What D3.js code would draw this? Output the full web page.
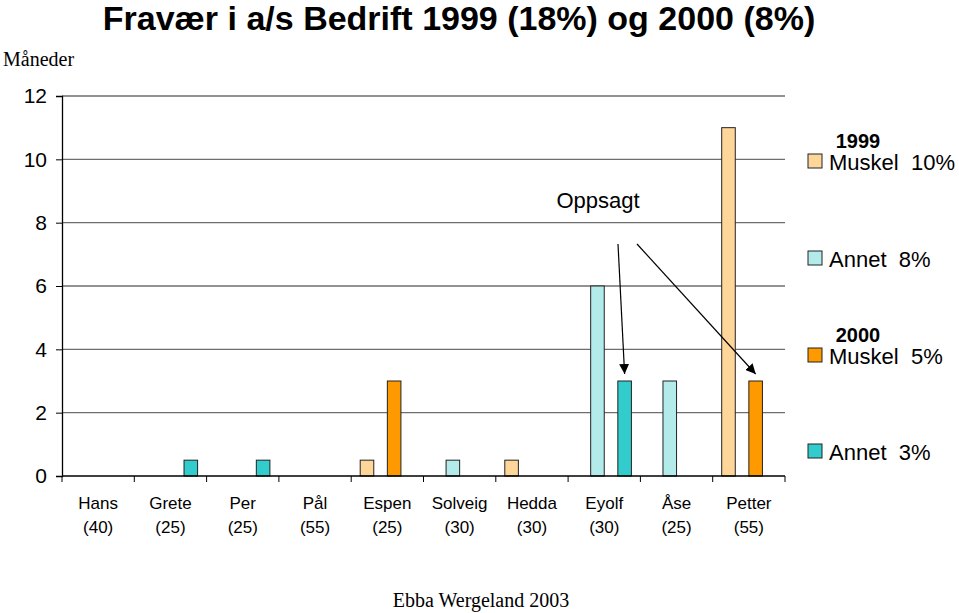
<!DOCTYPE html>
<html>
<head>
<meta charset="utf-8">
<script src="https://cdn.jsdelivr.net/npm/d3@7"></script>
<style>
  body { margin: 0; background: #fff; }
  svg { display: block; }
</style>
</head>
<body>
<div id="chart"></div>
<script>
// months of absence per person, 1999 and 2000
var people = ["Hans", "Grete", "Per", "Pål", "Espen", "Solveig", "Hedda", "Eyolf", "Åse", "Petter"];
var ages = ["(40)", "(25)", "(25)", "(55)", "(25)", "(30)", "(30)", "(30)", "(25)", "(55)"];
var muskel1999 = [0, 0, 0, 0, 0.5, 0, 0.5, 0, 0, 11];
var annet1999 = [0, 0, 0, 0, 0, 0.5, 0, 6, 3, 0];
var muskel2000 = [0, 0, 0, 0, 3, 0, 0, 0, 0, 3];
var annet2000 = [0, 0.5, 0.5, 0, 0, 0, 0, 3, 0, 0];
var seriesNames = ["Muskel 1999", "Annet 1999", "Muskel 2000", "Annet 2000"];
var seriesColors = ["#FFD699", "#B3EAEA", "#FF9900", "#33CCCC"];
var yTicks = [0, 2, 4, 6, 8, 10, 12];

var W = 959, H = 613;
var mLeft = 62, mRight = 785, mTop = 96, mBottom = 476;

var svg = d3.select("#chart").append("svg")
  .attr("width", W)
  .attr("height", H);

var x = d3.scaleBand().domain(people).range([mLeft, mRight]);
var xs = d3.scaleBand().domain(seriesNames).range([9, x.bandwidth() - 9]);
var y = d3.scaleLinear().domain([0, 12]).range([mBottom, mTop]);

// gridlines
svg.append("g").selectAll("line")
  .data(yTicks.filter(function(d) { return d > 0; }))
  .enter().append("line")
  .attr("x1", mLeft).attr("x2", mRight)
  .attr("y1", function(d) { return y(d); })
  .attr("y2", function(d) { return y(d); })
  .style("stroke", "#6e6e6e")
  .style("stroke-width", 1.3);

// bars
var seriesData = [muskel1999, annet1999, muskel2000, annet2000];
seriesData.forEach(function(vals, si) {
  svg.append("g").selectAll("rect")
    .data(vals.map(function(v, i) { return { name: people[i], v: v }; }).filter(function(d) { return d.v > 0; }))
    .enter().append("rect")
    .attr("x", function(d) { return x(d.name) + xs(seriesNames[si]); })
    .attr("width", xs.bandwidth())
    .attr("y", function(d) { return y(d.v); })
    .attr("height", function(d) { return y(0) - y(d.v); })
    .style("fill", seriesColors[si])
    .style("stroke", "#222")
    .style("stroke-width", 1);
});

// y axis
var yAxis = svg.append("g")
  .attr("transform", "translate(" + mLeft + ",0)")
  .call(d3.axisLeft(y).tickValues(yTicks).tickSize(6).tickPadding(9));
yAxis.select(".domain").style("stroke", "#000").style("stroke-width", 1.3);
yAxis.selectAll(".tick line").style("stroke", "#000");
yAxis.selectAll("text")
  .style("font-family", "Liberation Sans, Arial, sans-serif")
  .style("font-size", "21px")
  .style("fill", "#000");

// x axis with boundary ticks
var xAxis = svg.append("g").attr("class", "xaxis");
xAxis.append("line")
  .attr("x1", mLeft).attr("x2", mRight)
  .attr("y1", mBottom).attr("y2", mBottom)
  .style("stroke", "#000").style("stroke-width", 1.3);
xAxis.selectAll(".bt")
  .data(people.map(function(p) { return x(p); }).concat([mRight]))
  .enter().append("line")
  .attr("x1", function(d) { return d; }).attr("x2", function(d) { return d; })
  .attr("y1", mBottom).attr("y2", mBottom + 6)
  .style("stroke", "#000");
var xl = xAxis.selectAll(".lab")
  .data(people)
  .enter().append("text")
  .attr("x", function(d) { return x(d) + x.bandwidth() / 2; })
  .attr("y", mBottom + 33)
  .attr("text-anchor", "middle")
  .style("font-family", "Liberation Sans, Arial, sans-serif")
  .style("font-size", "17px");
xl.append("tspan").attr("x", function(d) { return x(d) + x.bandwidth() / 2; }).text(function(d) { return d; });
xl.append("tspan").attr("x", function(d) { return x(d) + x.bandwidth() / 2; }).attr("dy", 24)
  .text(function(d, i) { return ages[i]; });

// title
svg.append("text")
  .attr("x", 459).attr("y", 30)
  .attr("text-anchor", "middle")
  .style("font-family", "Liberation Sans, Arial, sans-serif")
  .style("font-weight", "bold")
  .style("font-size", "34px")
  .text("Fravær i a/s Bedrift 1999 (18%) og 2000 (8%)");

svg.append("text")
  .attr("x", 3).attr("y", 66)
  .style("font-family", "Liberation Serif, Times New Roman, serif")
  .style("font-size", "20px")
  .text("Måneder");

// annotation
svg.append("defs").append("marker")
  .attr("id", "arrow")
  .attr("viewBox", "0 0 10 10")
  .attr("refX", 10).attr("refY", 5)
  .attr("markerWidth", 10).attr("markerHeight", 10)
  .attr("markerUnits", "userSpaceOnUse")
  .attr("orient", "auto")
  .append("path").attr("d", "M0,0 L10,5 L0,10 z").style("fill", "#000");

svg.append("text")
  .attr("x", 598).attr("y", 208)
  .attr("text-anchor", "middle")
  .style("font-family", "Liberation Sans, Arial, sans-serif")
  .style("font-size", "22px")
  .text("Oppsagt");

var arrows = [
  { x1: 618, y1: 244, name: "Eyolf", s: 3, v: 3 },
  { x1: 637, y1: 244, name: "Petter", s: 2, v: 3 }
];
svg.selectAll(".arr")
  .data(arrows)
  .enter().append("line")
  .attr("x1", function(d) { return d.x1; })
  .attr("y1", function(d) { return d.y1; })
  .attr("x2", function(d) { return x(d.name) + xs(seriesNames[d.s]) + xs.bandwidth() / 2; })
  .attr("y2", function(d) { return y(d.v) - 7; })
  .style("stroke", "#000")
  .style("stroke-width", 1.2)
  .attr("marker-end", "url(#arrow)");

// legend
var legendItems = [
  { head: "1999", label: "Muskel  10%", color: seriesColors[0], y: 162 },
  { head: null, label: "Annet  8%", color: seriesColors[1], y: 259 },
  { head: "2000", label: "Muskel  5%", color: seriesColors[2], y: 356 },
  { head: null, label: "Annet  3%", color: seriesColors[3], y: 452 }
];
var lg = svg.append("g").selectAll("g")
  .data(legendItems)
  .enter().append("g");
lg.append("rect")
  .attr("x", 808).attr("y", function(d) { return d.y - 8; })
  .attr("width", 14).attr("height", 14)
  .style("fill", function(d) { return d.color; })
  .style("stroke", "#222");
lg.append("text")
  .attr("x", 829).attr("y", function(d) { return d.y + 8; })
  .style("font-family", "Liberation Sans, Arial, sans-serif")
  .style("font-size", "22px")
  .style("white-space", "pre")
  .attr("xml:space", "preserve")
  .text(function(d) { return d.label; });
lg.filter(function(d) { return d.head; }).append("text")
  .attr("x", 858).attr("y", function(d) { return d.y - 14; })
  .attr("text-anchor", "middle")
  .style("font-family", "Liberation Sans, Arial, sans-serif")
  .style("font-weight", "bold")
  .style("font-size", "20px")
  .text(function(d) { return d.head; });

svg.append("text")
  .attr("x", 481).attr("y", 607)
  .attr("text-anchor", "middle")
  .style("font-family", "Liberation Serif, Times New Roman, serif")
  .style("font-size", "20px")
  .text("Ebba Wergeland 2003");
</script>
</body>
</html>
